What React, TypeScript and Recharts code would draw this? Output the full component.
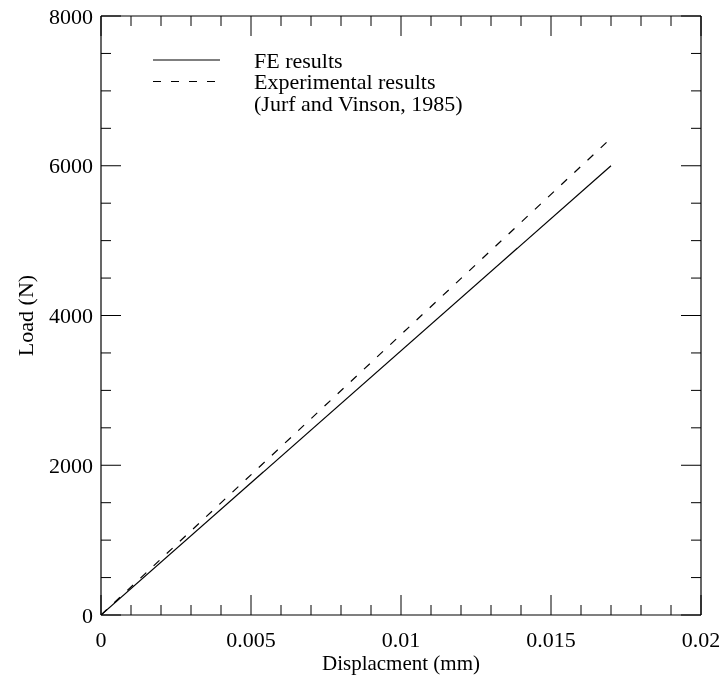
import React from "react"
import { LineChart, Line, XAxis, YAxis, Legend, Label } from "recharts"

// FE model vs. experiment (load-displacement)
const feDisplacement = [0, 0.017]
const feLoad = [0, 6000]
const expDisplacement = [0, 0.0169]
const expLoad = [0, 6330]

const xTicks = [
  0, 0.001, 0.002, 0.003, 0.004, 0.005, 0.006, 0.007, 0.008, 0.009, 0.01,
  0.011, 0.012, 0.013, 0.014, 0.015, 0.016, 0.017, 0.018, 0.019, 0.02,
]
const xMajor = [0, 0.005, 0.01, 0.015, 0.02]
const yTicks = [
  0, 500, 1000, 1500, 2000, 2500, 3000, 3500, 4000, 4500, 5000, 5500, 6000,
  6500, 7000, 7500, 8000,
]
const yMajor = [0, 2000, 4000, 6000, 8000]

const seriesNames = ["FE results", "Experimental results"]
const legendExtra = ["", "(Jurf and Vinson, 1985)"]

const feData = feDisplacement.map((d, i) => ({ disp: d, load: feLoad[i] }))
const expData = expDisplacement.map((d, i) => ({ disp: d, load: expLoad[i] }))

const FONT = "'Liberation Serif', 'Times New Roman', serif"
const FS = 22
const DASH = "8 10"

const BottomTick = (props: any) => {
  const { x, y, payload } = props
  const major = xMajor.includes(payload.value)
  return (
    <g>
      <line x1={x} y1={y} x2={x} y2={y - (major ? 20 : 10)} stroke="#000" />
      {major && (
        <text x={x} y={y + 32} textAnchor="middle" fontSize={FS} fontFamily={FONT} fill="#000">
          {String(payload.value)}
        </text>
      )}
    </g>
  )
}

const TopTick = (props: any) => {
  const { x, y, payload } = props
  const major = xMajor.includes(payload.value)
  return <line x1={x} y1={y} x2={x} y2={y + (major ? 20 : 10)} stroke="#000" />
}

const LeftTick = (props: any) => {
  const { x, y, payload } = props
  const major = yMajor.includes(payload.value)
  return (
    <g>
      <line x1={x} y1={y} x2={x + (major ? 20 : 10)} y2={y} stroke="#000" />
      {major && (
        <text x={x - 8} y={y + 7.5} textAnchor="end" fontSize={FS} fontFamily={FONT} fill="#000">
          {String(payload.value)}
        </text>
      )}
    </g>
  )
}

const RightTick = (props: any) => {
  const { x, y, payload } = props
  const major = yMajor.includes(payload.value)
  return <line x1={x} y1={y} x2={x - (major ? 20 : 10)} y2={y} stroke="#000" />
}

const renderLegend = (props: any) => {
  const items = [...(props.payload || [])].sort(
    (a: any, b: any) => seriesNames.indexOf(a.value) - seriesNames.indexOf(b.value)
  )
  let row = 0
  return (
    <svg width={420} height={90} style={{ display: "block" }}>
      {items.map((entry: any) => {
        const idx = seriesNames.indexOf(entry.value)
        const y = 12 + row * 21.5
        row += legendExtra[idx] ? 2 : 1
        return (
          <g key={entry.value} fontFamily={FONT} fontSize={FS} fill="#000">
            <line
              x1={5}
              x2={72}
              y1={y}
              y2={y}
              stroke="#000"
              strokeWidth={1.2}
              strokeDasharray={idx === 1 ? DASH : undefined}
            />
            <text x={106} y={y + 7.5}>{entry.value}</text>
            {legendExtra[idx] && <text x={106} y={y + 29}>{legendExtra[idx]}</text>}
          </g>
        )
      })}
    </svg>
  )
}

export default function App() {
  return (
    <div style={{ position: "fixed", left: 8, top: 8 }}>
      <LineChart
        width={716}
        height={674}
        margin={{ top: 7, right: 22, bottom: 7, left: 13 }}
        style={{ fontFamily: FONT }}
      >
        <XAxis
          xAxisId="bottom"
          dataKey="disp"
          type="number"
          domain={[0, 0.02]}
          ticks={xTicks}
          interval={0}
          height={60}
          tickSize={0}
          tickMargin={0}
          tickLine={false}
          axisLine={{ stroke: "#000", strokeWidth: 1.2 }}
          tick={BottomTick}
          allowDataOverflow
        >
          <Label
            content={(p: any) => {
              const vb = p.viewBox
              return (
                <text x={vb.x + vb.width / 2} y={vb.y + 55} textAnchor="middle" fontSize={21} fontFamily={FONT} fill="#000">
                  Displacment (mm)
                </text>
              )
            }}
          />
        </XAxis>
        <XAxis
          xAxisId="top"
          dataKey="disp"
          orientation="top"
          type="number"
          domain={[0, 0.02]}
          ticks={xTicks}
          interval={0}
          height={1}
          tickSize={0}
          tickMargin={0}
          tickLine={false}
          axisLine={{ stroke: "#000", strokeWidth: 1.2 }}
          tick={TopTick}
          allowDataOverflow
        />
        <YAxis
          yAxisId="left"
          type="number"
          domain={[0, 8000]}
          ticks={yTicks}
          interval={0}
          width={80}
          tickSize={0}
          tickMargin={0}
          tickLine={false}
          axisLine={{ stroke: "#000", strokeWidth: 1.2 }}
          tick={LeftTick}
          allowDataOverflow
        >
          <Label
            content={(p: any) => {
              const vb = p.viewBox
              const cx = vb.x + 4
              const cy = vb.y + vb.height / 2
              return (
                <text
                  x={cx}
                  y={cy}
                  transform={`rotate(-90, ${cx}, ${cy})`}
                  textAnchor="middle"
                  dominantBaseline="central"
                  fontSize={FS}
                  fontFamily={FONT}
                  fill="#000"
                >
                  Load (N)
                </text>
              )
            }}
          />
        </YAxis>
        <YAxis
          yAxisId="right"
          orientation="right"
          type="number"
          domain={[0, 8000]}
          ticks={yTicks}
          interval={0}
          width={1}
          tickSize={0}
          tickMargin={0}
          tickLine={false}
          axisLine={{ stroke: "#000", strokeWidth: 1.2 }}
          tick={RightTick}
          allowDataOverflow
        />
        <Legend
          layout="vertical"
          align="center"
          verticalAlign="middle"
          content={renderLegend}
          wrapperStyle={{ left: 140, top: 40, width: 420, height: 90 }}
        />
        <Line
          xAxisId="bottom"
          yAxisId="left"
          name={seriesNames[0]}
          data={feData}
          dataKey="load"
          stroke="#000"
          strokeWidth={1.2}
          dot={false}
          activeDot={false}
          isAnimationActive={false}
        />
        <Line
          xAxisId="bottom"
          yAxisId="left"
          name={seriesNames[1]}
          data={expData}
          dataKey="load"
          stroke="#000"
          strokeWidth={1.2}
          strokeDasharray={DASH}
          dot={false}
          activeDot={false}
          isAnimationActive={false}
        />
      </LineChart>
    </div>
  )
}
